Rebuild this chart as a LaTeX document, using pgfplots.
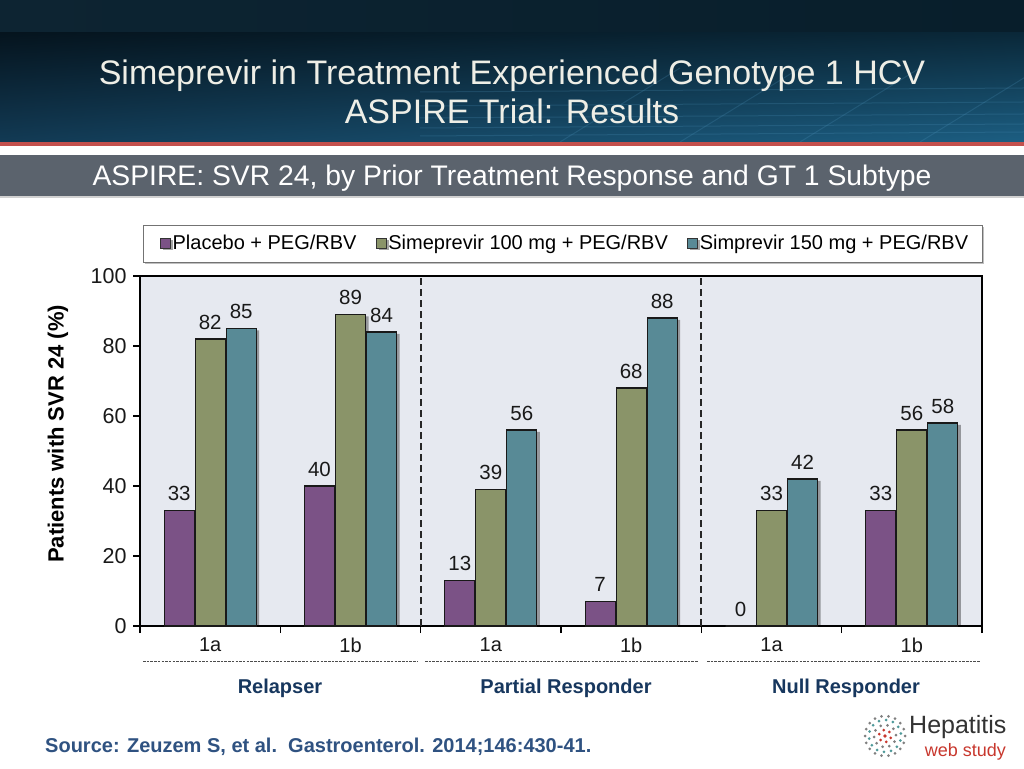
\documentclass[border=0pt]{standalone}
\usepackage{pgfplots}
\pgfplotsset{compat=1.18}
\usepackage{fontspec}
\setmainfont{Liberation Sans}
\usetikzlibrary{shadings}
\definecolor{cP}{HTML}{7B5286}
\definecolor{cG}{HTML}{8A9469}
\definecolor{cT}{HTML}{588A96}
\definecolor{bgc}{HTML}{E6E9F0}
\definecolor{navy}{HTML}{17375E}
\definecolor{srcblue}{HTML}{2F5281}
\definecolor{titlec}{HTML}{EEEEE6}
\definecolor{redline}{HTML}{C4504D}
\definecolor{grayband}{HTML}{5B636D}
\definecolor{logored}{HTML}{C8372D}
\definecolor{logoteal}{HTML}{4F9A9A}
\newcommand{\fs}[1]{\fontsize{#1}{#1}\selectfont}
\pgfplotsset{mylegend/.style={legend image code/.code={\draw[##1,draw=black!80,line width=0.8pt] (0pt,-5pt) rectangle (10pt,5pt);}}}
\begin{document}
\begin{tikzpicture}[x=1pt,y=1pt]
\useasboundingbox (0,0) rectangle (1024,768);
\fill[white] (0,0) rectangle (1024,768);
% header
\shade[left color={rgb,255:red,13;green,36;blue,50}, right color={rgb,255:red,8;green,30;blue,43}] (0,735) rectangle (1024,768);
\shade[upper left={rgb,255:red,5;green,20;blue,30}, upper right={rgb,255:red,10;green,40;blue,57}, lower left={rgb,255:red,18;green,58;blue,84}, lower right={rgb,255:red,28;green,94;blue,130}] (0,626) rectangle (1024,735);
\begin{scope}[draw={rgb,255:red,80;green,150;blue,190}, opacity=0.22, line width=1pt]
\foreach \yy in {632,640,650,662,676} {\draw (420,\yy) -- (1024,\yy+4);}
\foreach \xx in {560,680,800,920,1040} {\draw (\xx,626) -- (\xx+120,700);}
\end{scope}
\fill[redline] (0,622) rectangle (1024,626);
\fill[grayband] (0,572) rectangle (1024,613);
\fill[black!18] (0,570) rectangle (1024,572);
\node[anchor=base, text=titlec, font=\fs{34}, inner sep=0pt] at (512,683) {Simeprevir in Treatment Experienced Genotype 1 HCV};
\node[anchor=base, text=titlec, font=\fs{34}, inner sep=0pt] at (512,644) {ASPIRE Trial: Results};
\node[anchor=base, text=white, font=\fs{28.3}, inner sep=0pt] at (512,582) {ASPIRE: SVR 24, by Prior Treatment Response and GT 1 Subtype};
% legend box
\fill[black!25] (145,504) rectangle (984,541);
\filldraw[fill=white, draw=black!55, line width=0.8pt] (143,506) rectangle (982,543);
\begin{axis}[
  at={(140pt,142pt)}, anchor=south west,
  scale only axis, width=842pt, height=350pt,
  xmin=-0.5, xmax=5.5, ymin=0, ymax=100,
  ybar=1pt, bar width=30pt,
  axis background/.style={fill=bgc},
  tick pos=left,
  ytick={0,20,40,60,80,100},
  xtick={-0.5,0.5,1.5,2.5,3.5,4.5,5.5}, xticklabels={},
  extra x ticks={0,1,2,3,4,5},
  extra x tick labels={1a,1b,1a,1b,1a,1b},
  extra x tick style={major tick length=0pt, xticklabel style={yshift=-8pt}},
  tick align=outside, major tick length=7pt,
  tick style={black, line width=1.2pt},
  axis line style={black, line width=1.4pt},
  ticklabel style={font=\fs{20}, text=black!90},
  yticklabel style={font=\fs{21.5}, xshift=-3pt},
  /pgf/number format/assume math mode=true,
  ylabel={Patients with SVR 24 (\%)},
  ylabel style={font=\fs{22}\bfseries, at={(axis description cs:-0.0974,0.549)}, anchor=center},
  nodes near coords,
  every node near coord/.append style={font=\fs{20.5}, anchor=south, inner sep=0pt, yshift=9pt, text=black!90},
  legend style={at={(axis description cs:0.5,1)}, anchor=center, xshift=4pt, yshift=33pt, draw=none, fill=none, font=\fs{20}, legend columns=-1, /tikz/every even column/.append style={column sep=17pt}, /tikz/every odd column/.append style={column sep=0pt}},
  every axis plot/.append style={preaction={fill=black, opacity=0.35, draw=none, transform canvas={xshift=3pt, yshift=-2pt}}},
]
\addplot[fill=cP, draw=black!90, line width=1.2pt, mylegend] coordinates {(0,33) (1,40) (2,13) (3,7) (4,0) (5,33)};
\addplot[fill=cG, draw=black!90, line width=1.2pt, mylegend] coordinates {(0,82) (1,89) (2,39) (3,68) (4,33) (5,56)};
\addplot[fill=cT, draw=black!90, line width=1.2pt, mylegend] coordinates {(0,85) (1,84) (2,56) (3,88) (4,42) (5,58)};
\legend{Placebo + PEG/RBV, Simeprevir 100 mg + PEG/RBV, Simprevir 150 mg + PEG/RBV}
\draw[black!85, line width=2pt, dash pattern=on 7pt off 4pt] (axis cs:1.5,0) -- (axis cs:1.5,100);
\draw[black!85, line width=2pt, dash pattern=on 7pt off 4pt] (axis cs:3.5,0) -- (axis cs:3.5,100);
\end{axis}
% group separators and labels
\begin{scope}[black!70, line width=0.8pt, dash pattern=on 2.5pt off 1.2pt]
\draw (143,107) -- (417,107);
\draw (425,107) -- (698,107);
\draw (707,107) -- (980,107);
\end{scope}
\node[font=\fs{20}\bfseries, text=navy] at (280,80) {Relapser};
\node[font=\fs{20}\bfseries, text=navy] at (566,80) {Partial Responder};
\node[font=\fs{20}\bfseries, text=navy] at (846,80) {Null Responder};
% source
\node[anchor=base west, font=\fs{20}\bfseries, text=srcblue, inner sep=0pt] at (45,16) {Source: Zeuzem S, et al.\ \ Gastroenterol. 2014;146:430-41.};
% logo
\foreach \r/\n/\c in {6/6/logored, 11/10/gray, 16/14/logoteal, 20/18/gray} {
  \foreach \k in {1,...,\n} {
    \fill[\c] ({885+\r*cos(360*\k/\n+\r*7)},{32+\r*sin(360*\k/\n+\r*7)}) circle (1.5);
  }
}
\fill[logored] (885,32) circle (1.8);
\node[anchor=base west, font=\fs{25}, text=black!80, inner sep=0pt] at (909,35) {Hepatitis};
\node[anchor=base east, font=\fs{18}, text=logored, inner sep=0pt] at (1006,12) {web study};
\end{tikzpicture}
\end{document}
